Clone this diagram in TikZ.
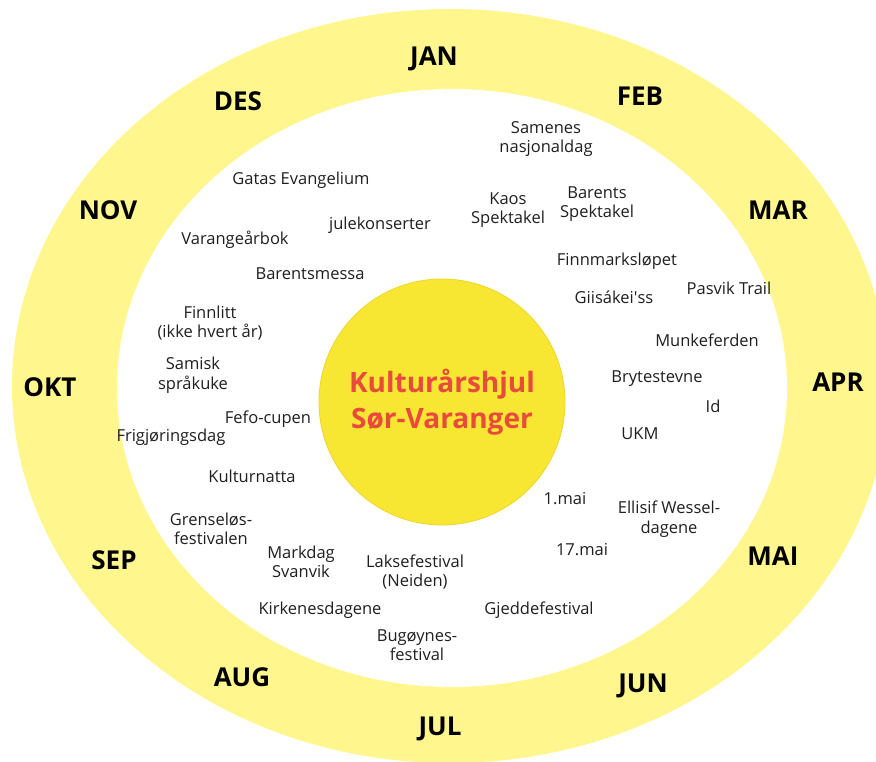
\documentclass[tikz,border=0pt]{standalone}
\usepackage{fontspec}
\setmainfont{Open Sans}
\setmonofont{Open Sans}
\definecolor{ringyellow}{HTML}{FFF68E}
\definecolor{hubyellow}{HTML}{F7E733}
\definecolor{hubedge}{HTML}{EFD62A}
\definecolor{titlered}{HTML}{E84A3B}
\definecolor{txt}{HTML}{1F1F1F}
\begin{document}
\begin{tikzpicture}[x=1pt,y=-1pt,
  ev/.style={font=\fontsize{16.5}{19.5}\selectfont, text=txt, align=center, inner sep=0pt},
  mon/.style={font=\fontsize{26}{30}\selectfont\bfseries, text=black, inner sep=0pt},
  hub/.style={circle, fill=hubyellow, draw=hubedge, line width=0.8pt, minimum size=246pt, inner sep=0pt,
    font=\fontsize{28}{36}\selectfont\bfseries, text=titlered, align=center}]
\useasboundingbox (0,0) rectangle (876,762);
% rings
\fill[ringyellow] (450,386) ellipse [x radius=438pt, y radius=377pt];
\fill[white] (452,388) ellipse [x radius=335pt, y radius=299pt];
% hub
\node[hub] (hub) at (442,402) {Kulturårshjul\\Sør-Varanger};
% months
\node[mon] (jan) at (434,59) {JAN};
\node[mon] (feb) at (640,96) {FEB};
\node[mon] (mar) at (778,210) {MAR};
\node[mon] (apr) at (838,382) {APR};
\node[mon] (mai) at (773,556) {MAI};
\node[mon] (jun) at (643,686) {JUN};
\node[mon] (jul) at (440,729) {JUL};
\node[mon] (aug) at (242,677) {AUG};
\node[mon] (sep) at (114,560) {SEP};
\node[mon] (okt) at (50,387) {OKT};
\node[mon] (nov) at (108,210) {NOV};
\node[mon] (des) at (238,101) {DES};
% events
\node[ev] (samenes) at (546,139) {Samenes\\nasjonaldag};
\node[ev] (gatas) at (301,180) {Gatas Evangelium};
\node[ev] (kaos) at (508,210) {Kaos\\Spektakel};
\node[ev] (barents) at (597,204) {Barents\\Spektakel};
\node[ev] (jule) at (380,225.5) {julekonserter};
\node[ev] (varang) at (235,240) {Varangeårbok};
\node[ev] (bmessa) at (310,274) {Barentsmessa};
\node[ev] (finnm) at (617,261.5) {Finnmarksløpet};
\node[ev] (pasvik) at (729,288) {Pasvik Trail};
\node[ev] (giis) at (614,297.5) {Giisákei{\ttfamily '}ss};
\node[ev] (finnlitt) at (210,323) {Finnlitt\\(ikke hvert år)};
\node[ev] (munke) at (707,340.5) {Munkeferden};
\node[ev] (samisk) at (193,375) {Samisk\\språkuke};
\node[ev] (bryte) at (657,379) {Brytestevne};
\node[ev] (id) at (713,406.5) {Id};
\node[ev] (fefo) at (268,419) {Fefo-cupen};
\node[ev] (frigj) at (171,437) {Frigjøringsdag};
\node[ev] (ukm) at (640,433.5) {UKM};
\node[ev] (kultn) at (252,476) {Kulturnatta};
\node[ev] (mai1) at (565,498.5) {1.mai};
\node[ev] (ellisif) at (669,519) {Ellisif Wessel-\\dagene};
\node[ev] (grense) at (211,529) {Grenseløs-\\festivalen};
\node[ev] (mai17) at (582,549.5) {17.mai};
\node[ev] (markdag) at (301,562) {Markdag\\Svanvik};
\node[ev] (laks) at (415,572) {Laksefestival\\(Neiden)};
\node[ev] (gjedde) at (539,610) {Gjeddefestival};
\node[ev] (kirk) at (320,610) {Kirkenesdagene};
\node[ev] (bugoy) at (417,645) {Bugøynes-\\festival};
\end{tikzpicture}
\end{document}
